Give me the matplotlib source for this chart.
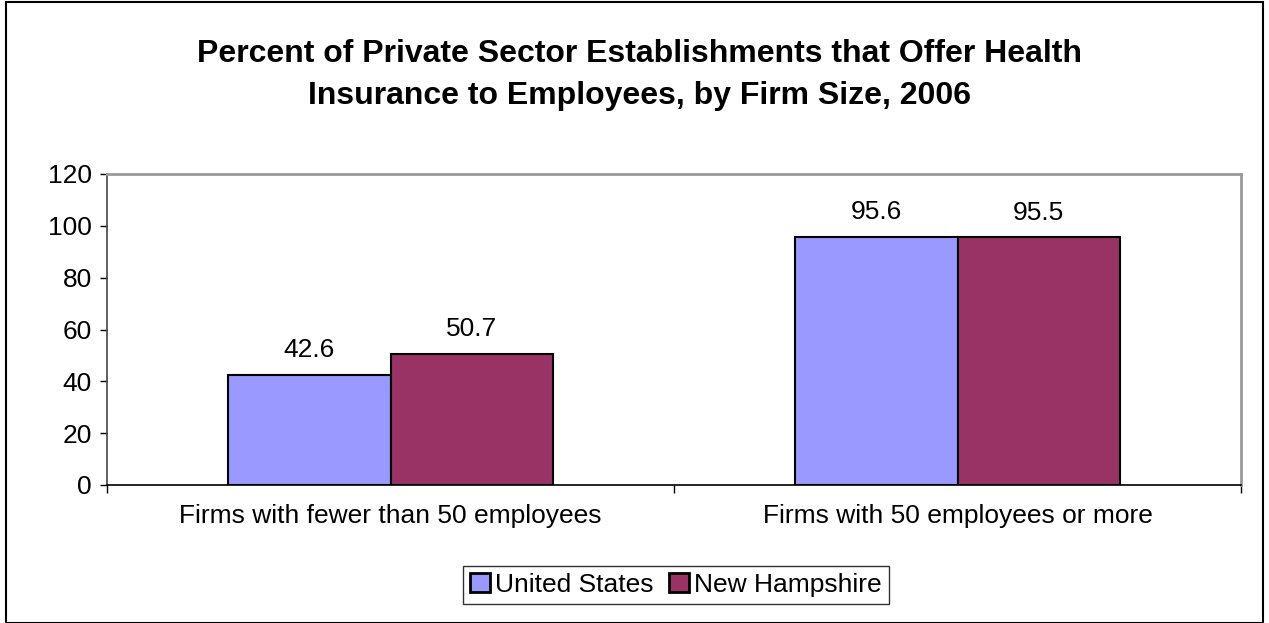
import numpy as np
import matplotlib.pyplot as plt
from matplotlib.patches import Rectangle

plt.rcParams["font.family"] = ["Liberation Sans", "DejaVu Sans"]

categories = ["Firms with fewer than 50 employees", "Firms with 50 employees or more"]
us_values = [42.6, 95.6]
nh_values = [50.7, 95.5]
series_names = ["United States", "New Hampshire"]

US_COLOR = "#9999FF"
NH_COLOR = "#993366"

fig = plt.figure(figsize=(12.69, 6.23), dpi=100)
ax = fig.add_axes([107 / 1269, 1 - 485 / 623, (1241 - 107) / 1269, (485 - 174) / 623])

x = np.arange(len(categories))
w = 0.286
b1 = ax.bar(x - w / 2, us_values, w, color=US_COLOR, edgecolor="black", linewidth=1.5, label=series_names[0])
b2 = ax.bar(x + w / 2, nh_values, w, color=NH_COLOR, edgecolor="black", linewidth=1.5, label=series_names[1])

for bars, vals in ((b1, us_values), (b2, nh_values)):
    for r, v in zip(bars, vals):
        ax.text(r.get_x() + r.get_width() / 2, v + 5, f"{v:.1f}", ha="center", va="bottom", fontsize=19)

ax.set_xlim(-0.5, 1.5)
ax.set_ylim(0, 120)
ax.set_yticks(range(0, 121, 20))
ax.tick_params(axis="y", labelsize=19, length=5, width=1, direction="out", pad=6)
ax.set_xticks(x)
ax.set_xticklabels(categories, fontsize=19)
ax.tick_params(axis="x", length=0, pad=14)
# category boundary ticks
ax.set_xticks([-0.5, 0.5, 1.5], minor=True)
ax.tick_params(axis="x", which="minor", length=6, width=1, direction="out")

ax.spines["top"].set_color("#999999")
ax.spines["right"].set_color("#999999")
ax.spines["top"].set_linewidth(2)
ax.spines["right"].set_linewidth(2)
ax.spines["left"].set_color("#444444")
ax.spines["left"].set_linewidth(1.2)
ax.spines["bottom"].set_color("black")
ax.spines["bottom"].set_linewidth(1.2)

fig.text(640 / 1269, 1 - 75 / 623, "Percent of Private Sector Establishments that Offer Health\nInsurance to Employees, by Firm Size, 2006",
         ha="center", va="center", fontsize=23, fontweight="bold", linespacing=1.55)

leg = fig.legend(handles=[b1, b2], labels=series_names, loc="center", bbox_to_anchor=(676 / 1269, 1 - 585 / 623),
                 ncol=2, fontsize=19, frameon=True, fancybox=False, handlelength=0.75, handleheight=0.75,
                 handletextpad=0.2, columnspacing=0.6, borderpad=0.25, borderaxespad=0)
leg.get_frame().set_edgecolor("black")
leg.get_frame().set_linewidth(1)
for h in leg.legend_handles:
    h.set_linewidth(2)

fig.patches.append(Rectangle((6 / 1269, 0), 1257 / 1269, 621 / 623, transform=fig.transFigure,
                             fill=False, edgecolor="black", linewidth=1.5))

fig.savefig("out.png", dpi=100)
